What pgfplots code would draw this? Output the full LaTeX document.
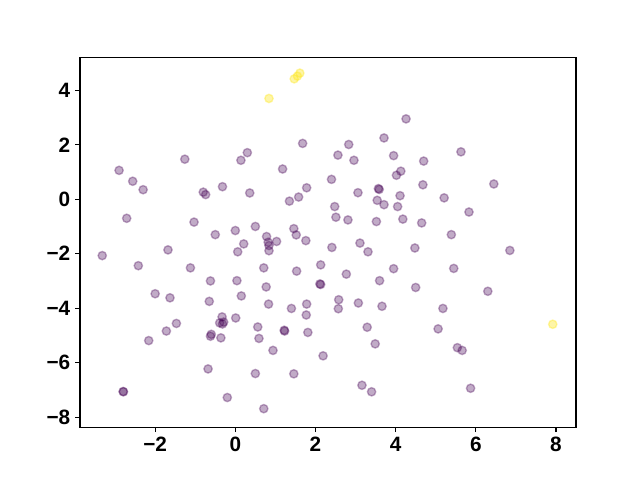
\documentclass[border=0pt]{standalone}
\usepackage{fontspec}
\setmainfont{Liberation Sans}
\usepackage{pgfplots}
\pgfplotsset{compat=1.18}
\definecolor{vdark}{HTML}{440154}
\definecolor{vyellow}{HTML}{FDE725}

\pgfplotstableread{
x y
-2.90 1.06
-2.56 0.66
-2.30 0.35
-1.26 1.47
-0.80 0.26
-0.74 0.17
-0.32 0.46
0.14 1.43
0.30 1.71
0.36 0.23
1.68 2.05
1.18 1.11
1.78 0.42
1.58 0.08
1.35 -0.07
2.40 0.73
2.56 1.62
2.83 2.01
2.96 1.43
3.71 2.25
3.95 1.60
4.13 1.03
4.02 0.88
4.26 2.95
5.63 1.74
4.70 1.40
4.68 0.53
6.45 0.56
3.06 0.24
3.57 0.39
3.59 0.36
3.54 -0.04
3.71 -0.20
4.11 0.13
4.05 -0.27
4.18 -0.73
2.48 -0.27
2.51 -0.66
2.81 -0.76
3.52 -0.82
5.21 0.05
5.83 -0.47
4.65 -0.87
5.39 -1.30
4.48 -1.79
6.85 -1.88
5.45 -2.54
4.50 -3.24
6.30 -3.38
0.50 -1.00
1.46 -1.08
1.52 -1.31
1.76 -1.52
0.78 -1.37
0.82 -1.58
0.84 -1.70
0.84 -1.89
1.03 -1.55
0.21 -1.64
2.41 -1.77
3.11 -1.61
3.31 -1.93
0.71 -2.52
1.53 -2.64
2.13 -2.41
2.77 -2.75
3.95 -2.55
3.60 -2.99
2.11 -3.11
2.13 -3.13
0.77 -3.22
0.15 -3.55
0.83 -3.85
1.40 -4.01
1.78 -3.85
1.77 -4.25
2.58 -3.69
2.57 -4.02
3.07 -3.81
3.66 -3.93
0.56 -4.69
1.22 -4.81
1.23 -4.84
1.81 -4.89
3.29 -4.70
0.59 -5.11
0.94 -5.55
3.49 -5.31
2.19 -5.75
0.50 -6.40
1.46 -6.41
3.16 -6.83
3.40 -7.07
0.71 -7.69
5.18 -4.01
5.06 -4.76
5.54 -5.45
5.66 -5.55
5.87 -6.94
-3.32 -2.07
-2.71 -0.70
-1.03 -0.84
-0.50 -1.30
0.00 -1.15
0.06 -1.93
-1.68 -1.86
-2.42 -2.44
-1.12 -2.52
-0.62 -3.00
0.04 -2.99
-2.00 -3.47
-1.63 -3.62
-0.65 -3.75
-1.47 -4.56
-1.72 -4.84
-2.16 -5.19
-0.33 -4.32
0.01 -4.36
-0.39 -4.54
-0.32 -4.58
-0.29 -4.51
-0.60 -4.96
-0.62 -5.03
-0.36 -5.09
-0.68 -6.23
-2.80 -7.06
-2.79 -7.07
-0.20 -7.28
}\purpledata

\pgfplotstableread{
x y
1.61 4.63
1.47 4.42
1.55 4.52
0.84 3.70
7.92 -4.59
}\yellowdata

\begin{document}
\begin{tikzpicture}
\path (0,0) rectangle (6.4in,4.8in);
\begin{axis}[
    at={(0.8in,0.528in)},
    anchor=south west,
    scale only axis,
    width=4.96in,
    height=3.696in,
    xmin=-3.875, xmax=8.5,
    ymin=-8.37, ymax=5.2,
    xtick={-2,0,2,4,6,8},
    xticklabels={−2,0,2,4,6,8},
    ytick={-8,-6,-4,-2,0,2,4},
    yticklabels={−8,−6,−4,−2,0,2,4},
    tick align=outside,
    tick pos=left,
    major tick length=3.5pt,
    every tick/.style={black, line width=0.8pt},
    axis line style={line width=0.8pt},
    ticklabel style={font=\bfseries\fontsize{15}{18}\selectfont},
    /pgf/number format/assume math mode=true,
    clip=false,
]
\addplot[only marks, mark=*, mark size=3pt, line width=1pt,
    color=vdark, fill opacity=0.33, draw opacity=0.33] table {\purpledata};
\addplot[only marks, mark=*, mark size=3pt, line width=1pt,
    color=vyellow, fill opacity=0.4, draw opacity=0.4] table {\yellowdata};
\end{axis}
\end{tikzpicture}
\end{document}
